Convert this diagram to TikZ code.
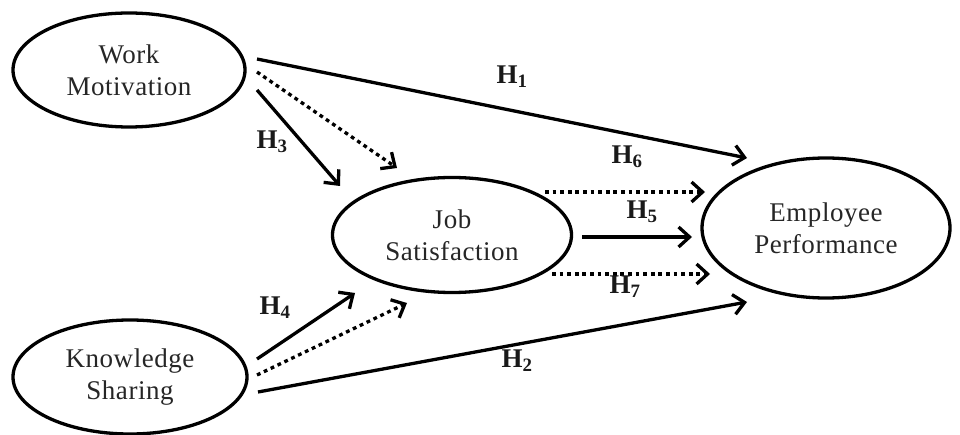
\documentclass[tikz,border=0pt]{standalone}
\usepackage{fontspec}
\setmainfont{Liberation Serif}
\newfontfamily\lblfont[LetterSpace=2]{Liberation Serif}
\usetikzlibrary{shapes.geometric,arrows.meta}
\begin{document}
\begin{tikzpicture}[x=1pt,y=-1pt,
  construct/.style={draw=black, line width=3.3pt, ellipse, inner sep=0pt, align=center,
    font=\lblfont\fontsize{27}{32}\selectfont, text=black!85},
  arr/.style={line width=3.3pt, -{Straight Barb[length=11pt,width=20pt,line width=3.3pt]}},
  dotarr/.style={arr, dash pattern=on 3.8pt off 3.8pt},
  hlab/.style={font=\fontsize{27}{30}\selectfont\bfseries, inner sep=0pt, text=black!90}]
\useasboundingbox (0,0) rectangle (960,435);
\node[construct, minimum width=232pt, minimum height=114pt] (wm) at (129,70) {Work\\Motivation};
\node[construct, minimum width=234pt, minimum height=114pt] (ks) at (130,377) {Knowledge\\Sharing};
\node[construct, minimum width=239pt, minimum height=115pt] (js) at (452,235) {Job\\Satisfaction};
\node[construct, minimum width=248pt, minimum height=140pt] (ep) at (826,228) {Employee\\Performance};
% Work Motivation arrows
\draw[arr] ([shift={(128,-11)}]wm.center) -- ([shift={(-79,-70)}]ep.center);
\draw[dotarr] ([shift={(128,2)}]wm.center) -- ([shift={(-55,-67)}]js.center);
\draw[arr] ([shift={(128,20)}]wm.center) -- ([shift={(-112,-49)}]js.center);
% Knowledge Sharing arrows
\draw[arr] ([shift={(127,-18)}]ks.center) -- ([shift={(-97,58)}]js.center);
\draw[dotarr] ([shift={(127,-2)}]ks.center) -- ([shift={(-45,68)}]js.center);
\draw[arr] ([shift={(128,15)}]ks.center) -- ([shift={(-79,74)}]ep.center);
% Job Satisfaction arrows
\draw[dotarr] ([shift={(93,-43)}]js.center) -- ([shift={(-121,-36)}]ep.center);
\draw[arr] ([shift={(130,2)}]js.center) -- ([shift={(-134,9)}]ep.center);
\draw[dotarr] ([shift={(100,39)}]js.center) -- ([shift={(-116,46)}]ep.center);
% labels
\node[hlab] (h1) at (512,77) {H\textsubscript{1}};
\node[hlab] (h2) at (517,361) {H\textsubscript{2}};
\node[hlab] (h3) at (272,142) {H\textsubscript{3}};
\node[hlab] (h4) at (275,308) {H\textsubscript{4}};
\node[hlab] (h5) at (642,212) {H\textsubscript{5}};
\node[hlab] (h6) at (627,157) {H\textsubscript{6}};
\node[hlab] (h7) at (625,287) {H\textsubscript{7}};
\end{tikzpicture}
\end{document}
